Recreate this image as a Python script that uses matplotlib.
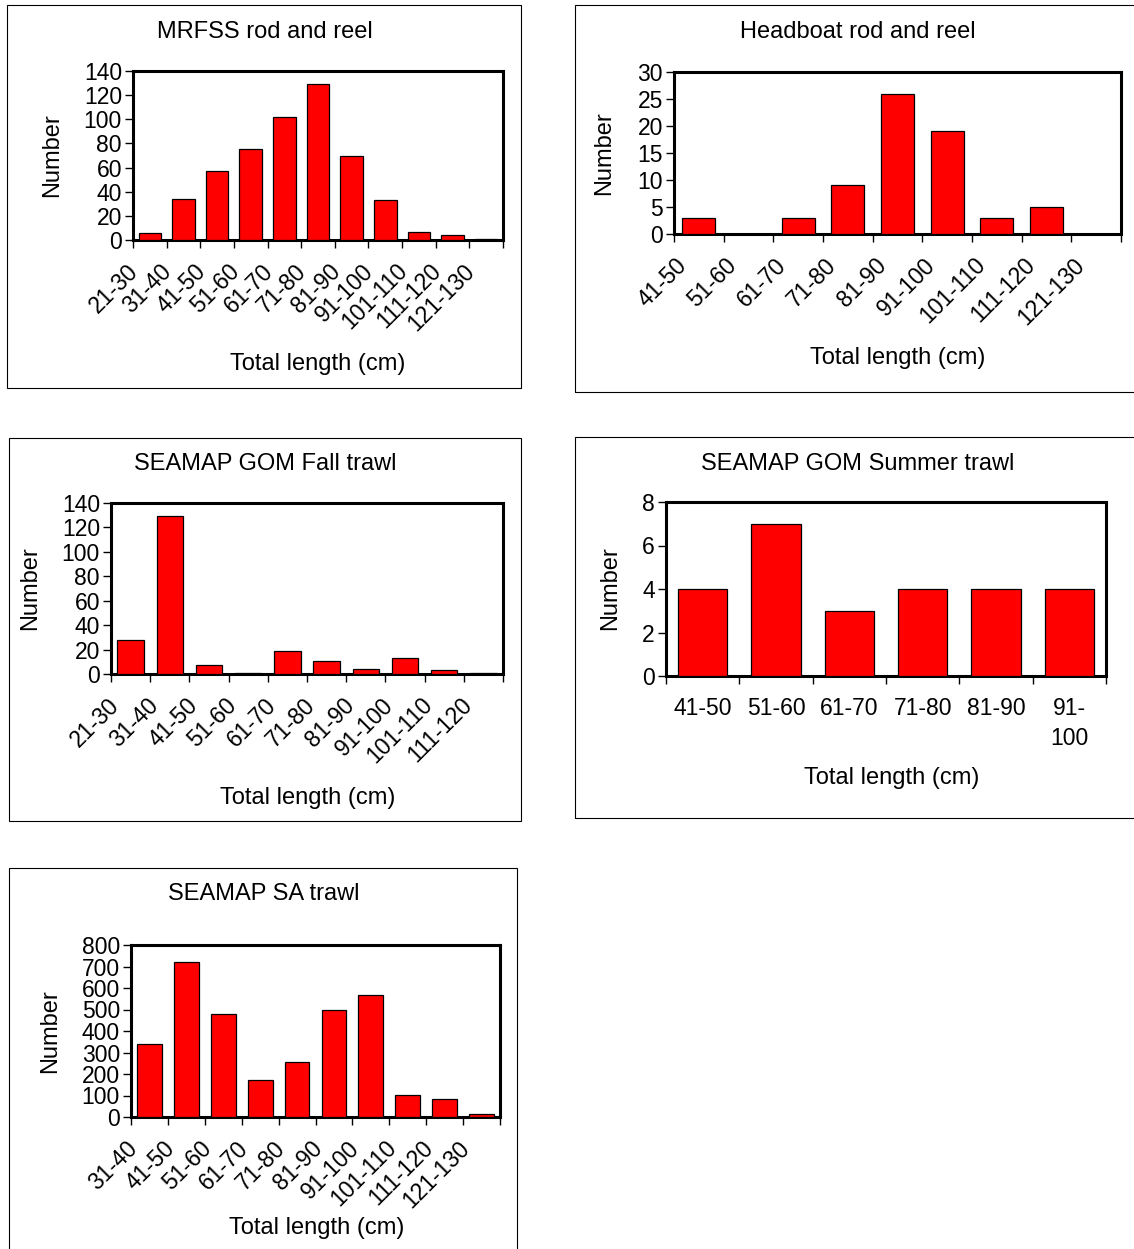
import numpy as np
import matplotlib
matplotlib.use('Agg')
import matplotlib.pyplot as plt
from matplotlib.patches import Rectangle
from matplotlib.transforms import ScaledTranslation

plt.rcParams['font.family'] = ['Liberation Sans', 'DejaVu Sans']

W, H = 1134, 1249

# data
mrfss_cats = ['21-30', '31-40', '41-50', '51-60', '61-70', '71-80', '81-90',
              '91-100', '101-110', '111-120', '121-130']
mrfss_vals = [6, 34, 57, 75, 102, 129, 70, 33, 7, 4, 1]

head_cats = ['41-50', '51-60', '61-70', '71-80', '81-90', '91-100',
             '101-110', '111-120', '121-130']
head_vals = [3, 0, 3, 9, 26, 19, 3, 5, 0]

fall_cats = ['21-30', '31-40', '41-50', '51-60', '61-70', '71-80', '81-90',
             '91-100', '101-110', '111-120']
fall_vals = [28, 129, 7, 1, 19, 11, 4, 13, 3, 1]

summer_cats = ['41-50', '51-60', '61-70', '71-80', '81-90', '91-\n100']
summer_vals = [4, 7, 3, 4, 4, 4]

sa_cats = ['31-40', '41-50', '51-60', '61-70', '71-80', '81-90', '91-100',
           '101-110', '111-120', '121-130']
sa_vals = [340, 722, 477, 170, 256, 500, 569, 102, 84, 16]

FS = 16.5   # tick labels
TFS = 17    # titles / axis labels

fig = plt.figure(figsize=(W/100, H/100), dpi=100)


def px_axes(l, t, r, b):
    return fig.add_axes([l/W, 1-b/H, (r-l)/W, (b-t)/H])


def frame(l, t, r, b):
    fig.add_artist(Rectangle((l/W, 1-b/H), (r-l)/W, (b-t)/H, transform=fig.transFigure,
                             fill=False, ec='black', lw=0.8))


def fig_text(x, y, s, **kw):
    fig.text(x/W, 1-y/H, s, ha='center', va='center', fontsize=TFS, **kw)


def panel(box, area, cats, vals, ymax, ystep, title, title_xy, xlab_xy, ylab_xy, rotate=True):
    frame(*box)
    ax = px_axes(*area)
    n = len(cats)
    x = np.arange(n)
    ax.bar(x, vals, width=0.67, color='#ff0000', edgecolor='black', linewidth=0.9, zorder=3)
    ax.set_xlim(-0.5, n-0.5)
    ax.set_ylim(0, ymax)
    ax.set_yticks(np.arange(0, ymax+ystep/2, ystep))
    ax.set_xticks(np.arange(n+1)-0.5)
    ax.set_xticklabels([])
    ax.set_xticks(x, minor=True)
    if rotate:
        ax.tick_params(axis='x', which='minor', length=0, pad=14)
        labs = ax.set_xticklabels(cats, minor=True, rotation=45, ha='right', va='top', fontsize=FS)
        shift = ScaledTranslation(-0.07, 0, fig.dpi_scale_trans)
        for t in labs:
            t.set_transform(t.get_transform() + shift)
    else:
        ax.tick_params(axis='x', which='minor', length=0, pad=15)
        ax.set_xticklabels(cats, minor=True, fontsize=FS, linespacing=1.4)
    ax.tick_params(axis='x', which='major', direction='out', length=6, width=1)
    ax.tick_params(axis='y', direction='out', length=6, width=1, pad=2, labelsize=FS)
    for s in ax.spines.values():
        s.set_linewidth(2.2)
    fig_text(*title_xy, title)
    fig_text(*xlab_xy, 'Total length (cm)')
    fig_text(*ylab_xy, 'Number', rotation=90)
    return ax


panel((7, 5, 521, 388), (133, 71, 503, 240), mrfss_cats, mrfss_vals, 140, 20,
      'MRFSS rod and reel', (265, 32), (318, 364), (52, 155))
panel((575, 5, 1150, 392), (674, 72, 1121, 234), head_cats, head_vals, 30, 5,
      'Headboat rod and reel', (858, 32), (898, 358), (604, 153))
panel((9, 438, 521, 821), (111, 503, 503, 674), fall_cats, fall_vals, 140, 20,
      'SEAMAP GOM Fall trawl', (265, 464), (308, 798), (30, 588))
panel((575, 437, 1150, 818), (666, 502, 1106, 676), summer_cats, summer_vals, 8, 2,
      'SEAMAP GOM Summer trawl', (858, 464), (892, 778), (610, 588), rotate=False)
panel((9, 868, 517, 1260), (131, 945, 500, 1117), sa_cats, sa_vals, 800, 100,
      'SEAMAP SA trawl', (264, 894), (317, 1228), (50, 1031))

fig.savefig('out.png', dpi=100)
